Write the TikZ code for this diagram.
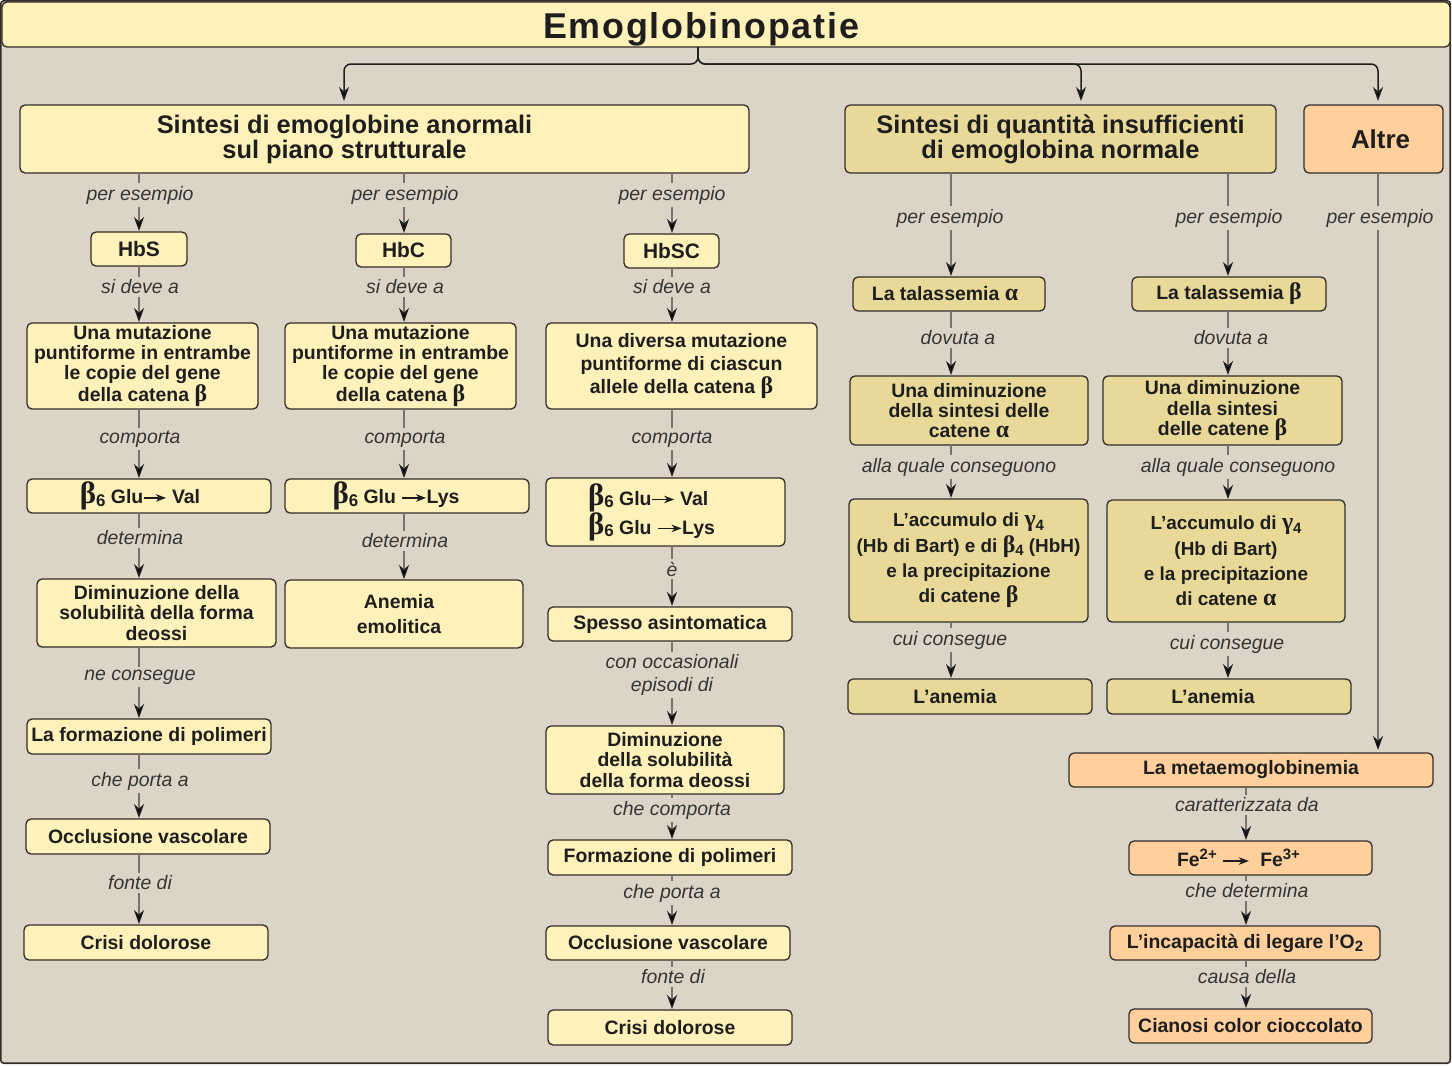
\documentclass[tikz,border=0pt]{standalone}
\usepackage{fontspec}
\setmainfont{Liberation Sans}
\newfontfamily\grk{Liberation Serif}
\usetikzlibrary{arrows.meta}
\definecolor{bgc}{RGB}{220,212,199}
\definecolor{ylw}{RGB}{255,241,186}
\definecolor{tanc}{RGB}{233,217,153}
\definecolor{org}{RGB}{255,208,156}
\definecolor{edgec}{RGB}{50,45,40}
\definecolor{lgray}{RGB}{120,115,110}
\definecolor{ink}{RGB}{30,30,30}
\newcommand\bx[7][ybox]{\node[#1,minimum width={(#5-#3)*1bp},minimum height={(#6-#4)*1bp}] (#2) at ({(#3+#5)/2},{(#4+#6)/2}) {#7};}
\newcommand\gbeta[1][24]{{\grk\fontsize{#1}{#1}\selectfont β}}
\newcommand\galpha[1][24]{{\grk\fontsize{#1}{#1}\selectfont α}}
\newcommand\ggamma[1][24]{{\grk\fontsize{#1}{#1}\selectfont γ}}
\newcommand\subx[1]{\raisebox{-3.5bp}{\fontsize{15}{15}\selectfont #1}}
\newcommand\supx[1]{\raisebox{7bp}{\fontsize{15}{15}\selectfont #1}}
\newcommand\bsix{{\grk\fontsize{31}{31}\selectfont β}\raisebox{-2.5bp}{\fontsize{17}{17}\selectfont 6}}
\newcommand\harr[1]{\tikz[baseline=-0.55ex]{\draw[line width=1.3bp,-{Stealth[length=10bp,width=7.5bp,inset=3bp]}] (0bp,0bp) -- (#1bp,0bp);}}
\begin{document}
\begin{tikzpicture}[x=1bp,y=-1bp,
  box/.style={draw=edgec, line width=1.3bp, rounded corners=5bp, inner sep=2bp, outer sep=0pt,
    align=center, text=ink, font=\bfseries\fontsize{19.5}{20.5}\selectfont},
  ybox/.style={box, fill=ylw},
  tbox/.style={box, fill=tanc},
  obox/.style={box, fill=org},
  lbl/.style={fill=bgc, inner sep=2.5bp, align=center, text=ink!90, yshift=-2bp,
    font=\itshape\fontsize{19.5}{23}\selectfont},
  conn/.style={draw=lgray, line width=1.4bp, shorten >=1bp,
    -{Stealth[length=14bp,width=10bp,inset=4.5bp,color=ink]}},
  topc/.style={draw=ink, line width=1.5bp, rounded corners=7bp, shorten >=4bp,
    -{Stealth[length=14bp,width=10bp,inset=4.5bp]}}]
\useasboundingbox (0,0) rectangle (1452,1065);
\draw[draw=edgec, line width=1.6bp, fill=bgc, rounded corners=3bp] (0.8,0.8) rectangle (1450.2,1063.2);

% title
\bx[ybox,text height=29bp,text depth=2bp]{title}{2}{2}{1450}{47}{{\fontsize{36}{36}\selectfont\addfontfeature{LetterSpace=5}Emoglobinopatie}\hspace*{50bp}}

% headers
\bx[ybox,font=\bfseries\fontsize{25.5}{25}\selectfont]{hA}{20}{105}{749}{173}{Sintesi di emoglobine anormali\hspace*{80bp}\\sul piano strutturale\hspace*{80bp}}
\bx[tbox,font=\bfseries\fontsize{25.5}{25}\selectfont]{hD}{845}{105}{1276}{173}{Sintesi di quantità insufficienti\\di emoglobina normale}
\bx[obox,font=\bfseries\fontsize{26}{26}\selectfont]{altre}{1304}{105}{1443}{173}{\hspace*{14bp}Altre}

% column A
\bx[ybox,font=\bfseries\fontsize{21}{21}\selectfont]{hbs}{91}{232}{187}{266}{HbS}
\bx{mutA}{27}{323}{258}{409}{Una mutazione\\puntiforme in entrambe\\le copie del gene\\della catena \gbeta}
\bx{gvA}{27}{479}{271}{513}{\bsix\ Glu\harr{22}\ Val\hspace*{18bp}}
\bx{dimA}{37}{579}{276}{647}{Diminuzione della\\solubilità della forma\\deossi}
\bx{polA}{27}{719}{271}{754}{La formazione di polimeri}
\bx{occA}{26}{819}{270}{854}{Occlusione vascolare}
\bx{criA}{24}{925}{268}{960}{Crisi dolorose}

% column B
\bx[ybox,font=\bfseries\fontsize{21}{21}\selectfont]{hbc}{356}{234}{451}{267}{HbC}
\bx{mutB}{285}{323}{516}{409}{Una mutazione\\puntiforme in entrambe\\le copie del gene\\della catena \gbeta}
\bx{glB}{285}{479}{529}{513}{\bsix\ Glu \harr{24}Lys\hspace*{22bp}}
\bx[ybox,font=\bfseries\fontsize{19.5}{25}\selectfont]{anB}{285}{580}{523}{648}{Anemia\hspace*{10bp}\\emolitica\hspace*{10bp}}

% column C
\bx[ybox,font=\bfseries\fontsize{21}{21}\selectfont]{hbsc}{624}{234}{719}{268}{HbSC}
\bx[ybox,font=\bfseries\fontsize{19.5}{23.5}\selectfont]{mutC}{546}{323}{817}{409}{Una diversa mutazione\\puntiforme di ciascun\\allele della catena \gbeta}
\bx[ybox,align=left,font=\bfseries\fontsize{19.5}{29}\selectfont]{glC}{546}{478}{785}{546}{\bsix\ Glu\harr{22}\ Val\hspace*{28bp}\\\bsix\ Glu \harr{24}Lys\hspace*{28bp}}
\bx{speC}{548}{607}{792}{641}{Spesso asintomatica}
\bx{dimC}{546}{726}{784}{794}{Diminuzione\\della solubilità\\della forma deossi}
\bx{polC}{548}{840}{792}{875}{Formazione di polimeri}
\bx{occC}{546}{926}{790}{960}{Occlusione vascolare}
\bx{criC}{548}{1010}{792}{1045}{Crisi dolorose}

% column D
\bx[tbox]{talA}{853}{277}{1045}{311}{La talassemia \galpha\hspace*{8bp}}
\bx[tbox]{dimD}{850}{376}{1088}{445}{Una diminuzione\\della sintesi delle\\catene \galpha}
\bx[tbox,font=\bfseries\fontsize{19}{25.5}\selectfont]{accD}{849}{499}{1088}{622}{L’accumulo di \ggamma\subx{4}\\(Hb di Bart) e di \gbeta\subx{4} (HbH)\\e la precipitazione\\di catene \gbeta}
\bx[tbox]{anD}{848}{679}{1092}{714}{L’anemia\hspace*{30bp}}

% column E
\bx[tbox]{talB}{1132}{277}{1326}{311}{La talassemia \gbeta}
\bx[tbox]{dimE}{1103}{376}{1342}{445}{Una diminuzione\\della sintesi\\delle catene \gbeta}
\bx[tbox,font=\bfseries\fontsize{19}{25.5}\selectfont]{accE}{1107}{500}{1345}{622}{L’accumulo di \ggamma\subx{4}\\(Hb di Bart)\\e la precipitazione\\di catene \galpha}
\bx[tbox]{anE}{1107}{679}{1351}{714}{L’anemia\hspace*{32bp}}

% column F
\bx[obox]{meta}{1069}{753}{1433}{787}{La metaemoglobinemia}
\bx[obox]{fe}{1129}{841}{1372}{875}{Fe\supx{2+} \harr{26} \ Fe\supx{3+}\hspace*{24bp}}
\bx[obox]{inc}{1110}{926}{1380}{960}{L’incapacità di legare l’O\subx{2}}
\bx[obox]{cia}{1129}{1009}{1372}{1043}{Cianosi color cioccolato}

% column coordinates
\coordinate (jx) at (698,64);
\coordinate (ax) at (344,0);
\coordinate (dx) at (1081,0);
\coordinate (fx) at (1378,0);
\coordinate (cA) at (139,0);
\coordinate (cB) at (404,0);
\coordinate (cC) at (672,0);
\coordinate (cD) at (951,0);
\coordinate (cE) at (1228,0);
\coordinate (cF) at (1378,0);
\coordinate (cG) at (1246,0);

% top connectors
\draw[topc] (title.south -| jx) -- (jx) -| (hA.north -| ax);
\draw[topc] (title.south -| jx) -- (jx) -| (hD.north -| dx);
\draw[topc] (title.south -| jx) -- (jx) -| (altre.north -| fx);

% connectors A
\draw[conn] (hA.south -| cA) -- (hbs.north -| cA);
\draw[conn] (hbs.south -| cA) -- (mutA.north -| cA);
\draw[conn] (mutA.south -| cA) -- (gvA.north -| cA);
\draw[conn] (gvA.south -| cA) -- (dimA.north -| cA);
\draw[conn] (dimA.south -| cA) -- (polA.north -| cA);
\draw[conn] (polA.south -| cA) -- (occA.north -| cA);
\draw[conn] (occA.south -| cA) -- (criA.north -| cA);
% connectors B
\draw[conn] (hA.south -| cB) -- (hbc.north -| cB);
\draw[conn] (hbc.south -| cB) -- (mutB.north -| cB);
\draw[conn] (mutB.south -| cB) -- (glB.north -| cB);
\draw[conn] (glB.south -| cB) -- (anB.north -| cB);
% connectors C
\draw[conn] (hA.south -| cC) -- (hbsc.north -| cC);
\draw[conn] (hbsc.south -| cC) -- (mutC.north -| cC);
\draw[conn] (mutC.south -| cC) -- (glC.north -| cC);
\draw[conn] (glC.south -| cC) -- (speC.north -| cC);
\draw[conn] (speC.south -| cC) -- (dimC.north -| cC);
\draw[conn] (dimC.south -| cC) -- (polC.north -| cC);
\draw[conn] (polC.south -| cC) -- (occC.north -| cC);
\draw[conn] (occC.south -| cC) -- (criC.north -| cC);
% connectors D
\draw[conn] (hD.south -| cD) -- (talA.north -| cD);
\draw[conn] (talA.south -| cD) -- (dimD.north -| cD);
\draw[conn] (dimD.south -| cD) -- (accD.north -| cD);
\draw[conn] (accD.south -| cD) -- (anD.north -| cD);
% connectors E
\draw[conn] (hD.south -| cE) -- (talB.north -| cE);
\draw[conn] (talB.south -| cE) -- (dimE.north -| cE);
\draw[conn] (dimE.south -| cE) -- (accE.north -| cE);
\draw[conn] (accE.south -| cE) -- (anE.north -| cE);
% connectors F
\draw[conn, shorten >=3bp] (altre.south -| cF) -- (meta.north -| cF);
\draw[conn] (meta.south -| cG) -- (fe.north -| cG);
\draw[conn] (fe.south -| cG) -- (inc.north -| cG);
\draw[conn] (inc.south -| cG) -- (cia.north -| cG);

% labels A
\node[lbl] (la1) at (140,193) {per esempio};
\node[lbl] (la2) at (140,285) {si deve a};
\node[lbl] (la3) at (140,437) {comporta};
\node[lbl] (la4) at (140,536) {determina};
\node[lbl] (la5) at (140,675) {ne consegue};
\node[lbl] (la6) at (140,779) {che porta a};
\node[lbl] (la7) at (140,881) {fonte di};
% labels B
\node[lbl] (lb1) at (405,193) {per esempio};
\node[lbl] (lb2) at (405,285) {si deve a};
\node[lbl] (lb3) at (405,437) {comporta};
\node[lbl] (lb4) at (405,539) {determina};
% labels C
\node[lbl] (lc1) at (672,193) {per esempio};
\node[lbl] (lc2) at (672,285) {si deve a};
\node[lbl] (lc3) at (672,437) {comporta};
\node[lbl] (lc4) at (672,567) {è};
\node[lbl] (lc5) at (672,673) {con occasionali\\episodi di};
\node[lbl] (lc6) at (672,808) {che comporta};
\node[lbl] (lc7) at (672,891) {che porta a};
\node[lbl] (lc8) at (673,975) {fonte di};
% labels D
\node[lbl] (ld1) at (950,216) {per esempio};
\node[lbl] (ld2) at (958,336) {dovuta a};
\node[lbl] (ld3) at (959,465) {alla quale conseguono};
\node[lbl] (ld4) at (950,638) {cui consegue};
% labels E
\node[lbl] (le1) at (1229,216) {per esempio};
\node[lbl] (le2) at (1231,336) {dovuta a};
\node[lbl] (le3) at (1238,465) {alla quale conseguono};
\node[lbl] (le4) at (1227,642) {cui consegue};
% labels F
\node[lbl] (lf1) at (1380,216) {per esempio};
\node[lbl] (lf2) at (1247,803) {caratterizzata da};
\node[lbl] (lf3) at (1247,889) {che determina};
\node[lbl] (lf4) at (1247,975) {causa della};
\end{tikzpicture}
\end{document}
